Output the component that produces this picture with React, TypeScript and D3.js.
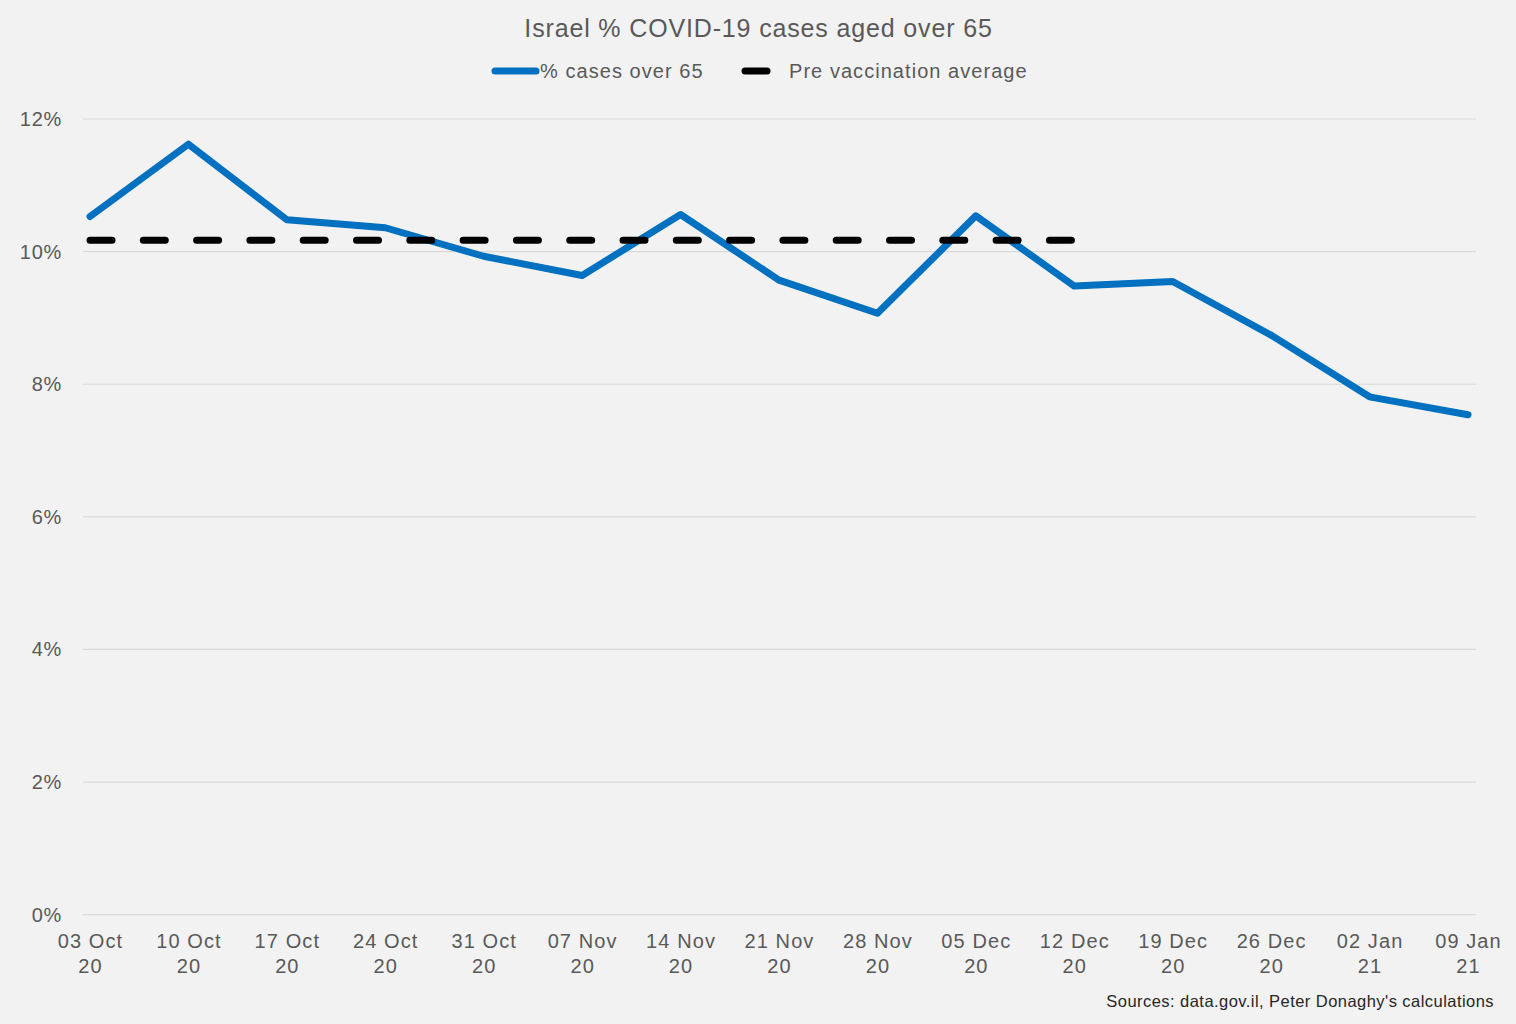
import React from "react";
import * as d3 from "d3";

const categories = ["03 Oct 20","10 Oct 20","17 Oct 20","24 Oct 20","31 Oct 20","07 Nov 20","14 Nov 20","21 Nov 20","28 Nov 20","05 Dec 20","12 Dec 20","19 Dec 20","26 Dec 20","02 Jan 21","09 Jan 21"];
const over65 = [10.53, 11.62, 10.48, 10.36, 9.93, 9.64, 10.56, 9.57, 9.07, 10.54, 9.48, 9.55, 8.74, 7.81, 7.54];
const preVaccAvg = [10.17, 10.17, 10.17, 10.17, 10.17, 10.17, 10.17, 10.17, 10.17, 10.17, 10.17];
const yTicks = [0, 2, 4, 6, 8, 10, 12];

const W = 1516, H = 1024;
const FONT = "'Liberation Sans', Arial, sans-serif";
const TXT = "#595959";

export default function App() {
  const x = d3.scalePoint<string>().domain(categories).range([90, 1468]);
  const y = d3.scaleLinear().domain([0, 12]).range([914.7, 119]);
  const line = d3.line<number>().x((_, i) => x(categories[i])!).y((d) => y(d));

  return (
    <div style={{ position: "fixed", left: 0, top: 0, width: W, height: H, background: "#F2F2F2" }}>
      <svg width={W} height={H} style={{ display: "block", fontFamily: FONT }}>
        <rect x={0} y={0} width={W} height={H} fill="#F2F2F2" />
        <text x={758.5} y={37} textAnchor="middle" fontSize={25} fill={TXT} letterSpacing={0.85}>
          Israel % COVID-19 cases aged over 65
        </text>
        {/* legend */}
        <line x1={495} x2={536} y1={71} y2={71} stroke="#0070C0" strokeWidth={7} strokeLinecap="round" />
        <text x={540} y={78} fontSize={20} fill={TXT} letterSpacing={1.05}>% cases over 65</text>
        <line x1={745} x2={767} y1={71} y2={71} stroke="#000" strokeWidth={7} strokeLinecap="round" />
        <text x={789} y={78} fontSize={20} fill={TXT} letterSpacing={1.05}>Pre vaccination average</text>

        {yTicks.map((t) => (
          <g key={t}>
            <line x1={83} x2={1476} y1={y(t)} y2={y(t)} stroke="#D9D9D9" strokeWidth={1.2} />
            <text x={62} y={y(t) + 7} textAnchor="end" fontSize={20} fill={TXT} letterSpacing={0.7}>{t}%</text>
          </g>
        ))}

        {categories.map((c) => {
          const parts = c.split(" ");
          return (
            <text key={c} x={x(c)} textAnchor="middle" fontSize={20} fill={TXT} letterSpacing={1.1}>
              <tspan x={x(c)! + 0.5} y={948}>{parts[0] + " " + parts[1]}</tspan>
              <tspan x={x(c)! + 0.5} y={973}>{parts[2]}</tspan>
            </text>
          );
        })}

        <path d={line(over65)!} fill="none" stroke="#0070C0" strokeWidth={7} strokeLinejoin="round" strokeLinecap="round" />
        <path d={line(preVaccAvg)!} fill="none" stroke="#000" strokeWidth={7} strokeLinecap="round" strokeDasharray="22,31.3" />

        <text x={1494} y={1007} textAnchor="end" fontSize={16.5} fill="#262626" letterSpacing={0.45}>
          Sources: data.gov.il,  Peter Donaghy's calculations
        </text>
      </svg>
    </div>
  );
}
